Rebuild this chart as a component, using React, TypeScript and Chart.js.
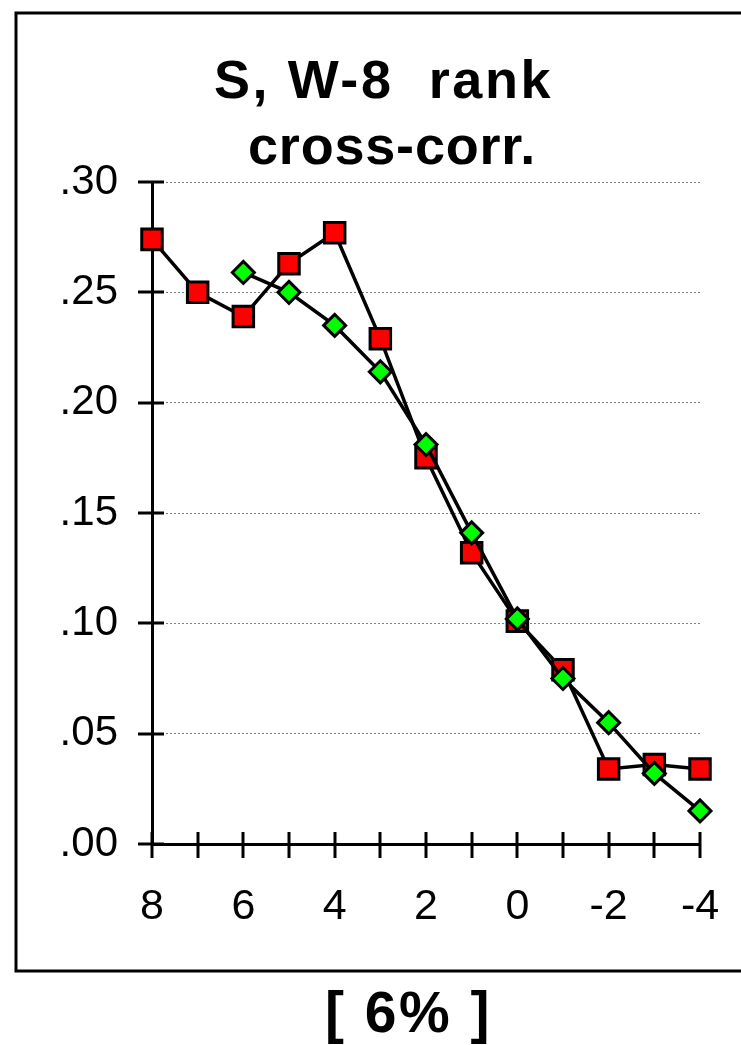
import React, { useEffect, useRef } from 'react';
import { Chart, registerables } from 'chart.js';

Chart.register(...registerables);

// ---- data ----
const redLags = [8, 7, 6, 5, 4, 3, 2, 1, 0, -1, -2, -3, -4];
const redValues = [0.274, 0.250, 0.239, 0.263, 0.277, 0.229, 0.175, 0.132, 0.101, 0.079, 0.034, 0.036, 0.034];
const greenLags = [6, 5, 4, 3, 2, 1, 0, -1, -2, -3, -4];
const greenValues = [0.259, 0.250, 0.235, 0.214, 0.181, 0.141, 0.102, 0.075, 0.055, 0.032, 0.015];
const xTickLabels = ['8', '6', '4', '2', '0', '-2', '-4'];
const yTickLabels = ['.00', '.05', '.10', '.15', '.20', '.25', '.30'];
const titleLines = ['S, W-8  rank', 'cross-corr.'];
const footerText = '[ 6% ]';

const FONT = "'Liberation Sans', Arial, sans-serif";

const decorPlugin = {
  id: 'decor',
  beforeDraw(chart: any) {
    const ctx = chart.ctx;
    ctx.save();
    ctx.fillStyle = '#ffffff';
    ctx.fillRect(0, 0, chart.width, chart.height);
    ctx.strokeStyle = '#000000';
    ctx.lineWidth = 3;
    ctx.strokeRect(16, 13, 800, 958);
    ctx.restore();
  },
  beforeDatasetsDraw(chart: any) {
    const ctx = chart.ctx;
    const xs = chart.scales.x;
    const ys = chart.scales.y;
    ctx.save();
    ctx.strokeStyle = '#000000';
    ctx.lineWidth = 3;
    const axisY = ys.getPixelForValue(0);
    xs.ticks.forEach((t: any) => {
      const px = Math.round(xs.getPixelForValue(t.value));
      ctx.beginPath();
      ctx.moveTo(px, axisY - 12);
      ctx.lineTo(px, axisY + 14);
      ctx.stroke();
    });
    const axisX = xs.getPixelForValue(8);
    ys.ticks.forEach((t: any) => {
      const py = Math.round(ys.getPixelForValue(t.value));
      ctx.beginPath();
      ctx.moveTo(axisX - 14, py);
      ctx.lineTo(axisX + 12, py);
      ctx.stroke();
    });
    ctx.restore();
  },
  afterDraw(chart: any) {
    const ctx = chart.ctx;
    ctx.save();
    ctx.fillStyle = '#000000';
    ctx.textBaseline = 'alphabetic';
    ctx.textAlign = 'left';
    ctx.font = `bold 54px ${FONT}`;
    (ctx as any).letterSpacing = '2.6px';
    ctx.fillText(titleLines[0], 214, 98);
    (ctx as any).letterSpacing = '0.8px';
    ctx.fillText(titleLines[1], 248, 164);
    ctx.font = `bold 57px ${FONT}`;
    (ctx as any).letterSpacing = '2.5px';
    ctx.fillText(footerText, 325, 1032);
    (ctx as any).letterSpacing = '0px';
    ctx.restore();
  },
};

export default function App() {
  const ref = useRef<HTMLCanvasElement | null>(null);
  useEffect(() => {
    if (!ref.current) return;
    const chart = new Chart(ref.current, {
      type: 'line',
      data: {
        datasets: [
          {
            label: 'green',
            data: greenLags.map((x, i) => ({ x, y: greenValues[i] })),
            borderColor: '#000000',
            borderWidth: 3.5,
            pointStyle: 'rectRot',
            pointRadius: 11,
            pointBackgroundColor: '#00ff00',
            pointBorderColor: '#000000',
            pointBorderWidth: 3,
            tension: 0,
            clip: false,
            order: 1,
          },
          {
            label: 'red',
            data: redLags.map((x, i) => ({ x, y: redValues[i] })),
            borderColor: '#000000',
            borderWidth: 3.5,
            pointStyle: 'rect',
            pointRadius: 14.5,
            pointBackgroundColor: '#ff0000',
            pointBorderColor: '#000000',
            pointBorderWidth: 3,
            tension: 0,
            clip: false,
            order: 2,
          },
        ],
      },
      options: {
        responsive: false,
        animation: false,
        events: [],
        layout: { padding: { left: 0, right: 41, top: 182, bottom: 0 } },
        plugins: {
          legend: { display: false },
          tooltip: { enabled: false },
          title: { display: false },
        },
        scales: {
          x: {
            type: 'linear',
            reverse: true,
            min: -4,
            max: 8,
            afterFit: (s: any) => {
              s.height = 201;
              s.paddingLeft = 0;
              s.paddingRight = 0;
            },
            grid: { drawOnChartArea: false, drawTicks: false },
            border: { display: true, color: '#000000', width: 3 },
            ticks: {
              stepSize: 1,
              autoSkip: false,
              maxRotation: 0,
              padding: 37,
              color: '#000000',
              font: { family: FONT, size: 43 },
              callback: (v: any) => {
                const s = String(v);
                return xTickLabels.includes(s) ? s : '';
              },
            },
          },
          y: {
            type: 'linear',
            min: 0,
            max: 0.3,
            afterFit: (s: any) => {
              s.width = 152;
              s.paddingTop = 0;
              s.paddingBottom = 0;
            },
            grid: {
              drawTicks: false,
              color: '#808080',
              lineWidth: 1,
            },
            border: { display: true, color: '#000000', width: 3, dash: [2, 2] },
            ticks: {
              stepSize: 0.05,
              padding: 34,
              color: '#000000',
              font: { family: FONT, size: 42 },
              callback: (_v: any, i: number) => yTickLabels[i],
            },
          },
        },
      },
      plugins: [decorPlugin],
    } as any);
    return () => chart.destroy();
  }, []);
  return (
    <div style={{ position: 'absolute', left: 0, top: 0, width: 741, height: 1045 }}>
      <canvas ref={ref} width={741} height={1045} style={{ display: 'block' }} />
    </div>
  );
}
